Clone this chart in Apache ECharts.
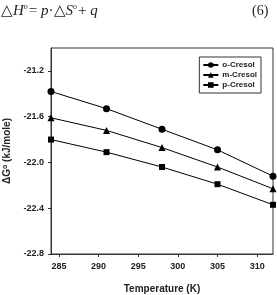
<!DOCTYPE html>
<html>
<head>
<meta charset="utf-8">
<script src="https://cdn.jsdelivr.net/npm/echarts@6/dist/echarts.min.js"></script>
<style>
html, body { margin: 0; padding: 0; background: #fff; }
#main { width: 277px; height: 295px; }
</style>
</head>
<body>
<div id="main"></div>
<script>
var temps = [284, 291, 298, 305, 312]
var oCresol = [-21.38, -21.53, -21.71, -21.89, -22.12]
var mCresol = [-21.61, -21.72, -21.87, -22.04, -22.23]
var pCresol = [-21.80, -21.91, -22.04, -22.19, -22.37]
var names = ['o-Cresol', 'm-Cresol', 'p-Cresol']

var element = document.querySelector('#main')
var myChart = echarts.init(element)

var font = 'Liberation Sans, Arial, sans-serif'
var serif = 'Liberation Serif, serif'

var pairs = function(ys) {
    var out = []
    for (var i = 0; i < temps.length; i++) {
        out.push([temps[i], ys[i]])
    }
    return out
}

var makeSeries = function(name, ys, symbol, size) {
    return {
        name: name,
        type: 'line',
        data: pairs(ys),
        symbol: symbol,
        symbolSize: size,
        showAllSymbol: true,
        lineStyle: {color: '#000', width: 1},
        itemStyle: {color: '#000'},
        clip: false
    }
}

var option = {
    animation: false,
    backgroundColor: '#fff',
    textStyle: {fontFamily: font},
    graphic: [
        {
            type: 'text',
            left: 1,
            top: 3,
            style: {
                text: '△{i|H}{s|o}= {i|p}·△{i|S}{s|o}+ {i|q}',
                fontFamily: serif,
                fontSize: 15,
                fill: '#222',
                rich: {
                    i: {fontStyle: 'italic', fontFamily: serif, fontSize: 15, fill: '#222'},
                    s: {fontFamily: serif, fontSize: 8, verticalAlign: 'top', padding: [0, 1, 8, 0], fill: '#222'}
                }
            }
        },
        {
            type: 'text',
            left: 252,
            top: 4,
            style: {
                text: '(6)',
                fontFamily: serif,
                fontSize: 14,
                fill: '#222'
            }
        }
    ],
    grid: {
        left: 51,
        top: 48,
        right: 4,
        bottom: 41,
        outerBoundsMode: 'none',
        containLabel: false,
        show: true,
        borderColor: '#333',
        borderWidth: 1
    },
    legend: {
        data: names,
        orient: 'vertical',
        right: 16,
        top: 57,
        itemWidth: 15,
        itemHeight: 7,
        itemGap: 2,
        padding: [4, 4, 4, 3],
        borderColor: '#333',
        borderWidth: 1,
        textStyle: {fontFamily: font, fontWeight: 'bold', fontSize: 8, color: '#222', padding: [0, 0, 0, -1]}
    },
    xAxis: {
        type: 'value',
        min: 284,
        max: 312,
        splitNumber: 5,
        name: 'Temperature (K)',
        nameLocation: 'middle',
        nameGap: 30,
        nameTextStyle: {fontFamily: font, fontWeight: 'bold', fontSize: 10, color: '#222'},
        axisLine: {lineStyle: {color: '#333', width: 1}},
        axisTick: {show: true, length: 3, lineStyle: {color: '#333'}},
        axisLabel: {fontFamily: font, fontWeight: 'bold', fontSize: 9, color: '#222', margin: 8, showMinLabel: false, showMaxLabel: false},
        splitLine: {show: false}
    },
    yAxis: {
        type: 'value',
        min: -22.8,
        max: -21.0,
        interval: 0.4,
        name: 'ΔG{s|o} (kJ/mole)',
        nameLocation: 'middle',
        nameGap: 35,
        nameTextStyle: {
            fontFamily: font, fontWeight: 'bold', fontSize: 10, color: '#222',
            rich: {s: {fontFamily: font, fontWeight: 'bold', fontSize: 7, color: '#222', verticalAlign: 'top', padding: [0, 0, 5, 0]}}
        },
        axisLine: {lineStyle: {color: '#333', width: 1}},
        axisTick: {show: true, length: 3, lineStyle: {color: '#333'}},
        axisLabel: {
            fontFamily: font, fontWeight: 'bold', fontSize: 9, color: '#222', margin: 7,
            showMaxLabel: false,
            formatter: function(v) { return v.toFixed(1) }
        },
        splitLine: {show: false}
    },
    series: [
        makeSeries(names[0], oCresol, 'circle', 7),
        makeSeries(names[1], mCresol, 'triangle', 7),
        makeSeries(names[2], pCresol, 'rect', 6)
    ]
}

myChart.setOption(option)
</script>
</body>
</html>
